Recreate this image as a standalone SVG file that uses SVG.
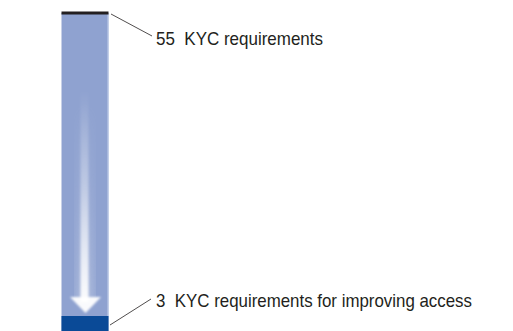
<svg xmlns="http://www.w3.org/2000/svg" width="513" height="331" viewBox="0 0 513 331">
  <defs>
    <linearGradient id="glow" x1="0" y1="0" x2="0" y2="1">
      <stop offset="0" stop-color="#ffffff" stop-opacity="0"/>
      <stop offset="0.45" stop-color="#ffffff" stop-opacity="0.35"/>
      <stop offset="1" stop-color="#ffffff" stop-opacity="0.95"/>
    </linearGradient>
    <linearGradient id="side" x1="0" y1="0" x2="1" y2="0">
      <stop offset="0" stop-color="#ffffff" stop-opacity="0"/>
      <stop offset="0.5" stop-color="#ffffff" stop-opacity="1"/>
      <stop offset="1" stop-color="#ffffff" stop-opacity="0"/>
    </linearGradient>
    <mask id="shaftMask">
      <rect x="70" y="60" width="30" height="260" fill="url(#side)"/>
    </mask>
    <filter id="soft" x="-50%" y="-10%" width="200%" height="120%">
      <feGaussianBlur stdDeviation="1.2"/>
    </filter>
  </defs>
  <style>
    .lbl { font-family: "Liberation Sans", Arial, sans-serif; font-size: 18.5px; fill: #231f20; white-space: pre; }
    .lead { stroke: #231f20; stroke-width: 0.8; fill: none; }
  </style>
  <rect width="513" height="331" fill="#ffffff"/>

  <!-- scale bar -->
  <g id="bar">
    <rect x="61.5" y="13" width="47" height="318" fill="#8fa2d0"/>
    <rect x="107.5" y="13" width="1.2" height="304" fill="#c3cfe9"/>
    <!-- faint central glow -->
    <rect x="74" y="100" width="22" height="200" fill="url(#glow)" opacity="0.35" mask="url(#shaftMask)"/>
    <!-- arrow shaft and head -->
    <g filter="url(#soft)">
      <rect x="80.5" y="90" width="8" height="212" fill="url(#glow)"/>
      <polygon points="70,297 101,297 85.5,313" fill="#ffffff" opacity="0.95"/>
    </g>
    <rect x="61.5" y="316" width="47" height="15" fill="#0a4a97"/>
    <rect x="61.5" y="11.5" width="47" height="3" fill="#231f20"/>
  </g>

  <!-- leader lines -->
  <g id="connectors">
    <line class="lead" x1="111" y1="14" x2="152" y2="36"/>
    <line class="lead" x1="110" y1="325" x2="151" y2="299"/>
  </g>

  <g id="top-label">
    <text class="lbl" x="156" y="44.5" textLength="167" lengthAdjust="spacingAndGlyphs">55  KYC requirements</text>
  </g>
  <g id="bottom-label">
    <text class="lbl" x="156" y="306.5" textLength="316" lengthAdjust="spacingAndGlyphs">3  KYC requirements for improving access</text>
  </g>
</svg>
